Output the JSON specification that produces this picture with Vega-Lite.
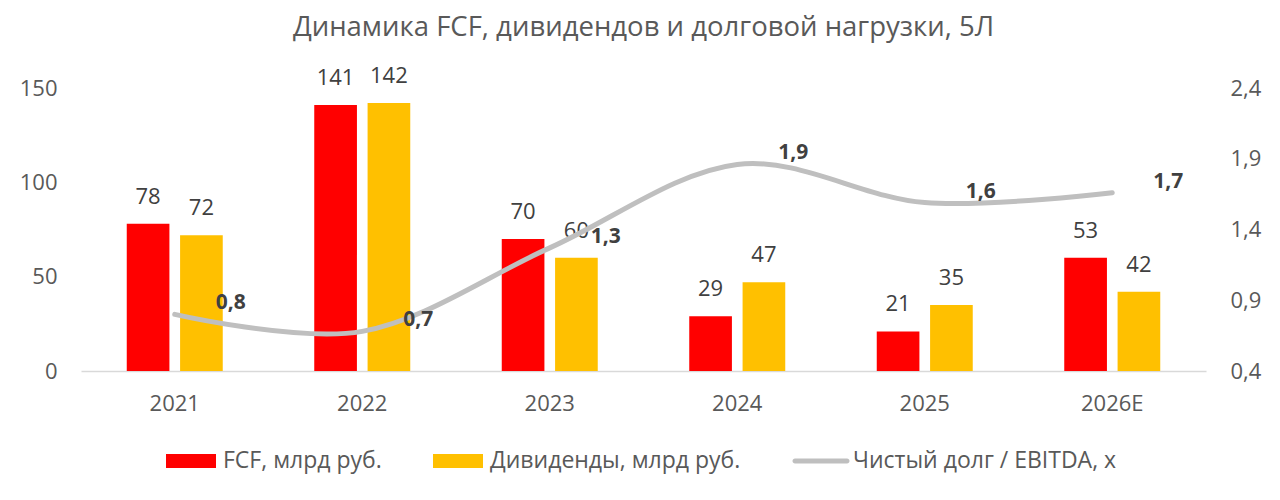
{
  "$schema": "https://vega.github.io/schema/vega-lite/v6.json",
  "width": 1125,
  "height": 283,
  "autosize": {"type": "none"},
  "padding": {"left": 81, "top": 88, "right": 74, "bottom": 129},
  "title": {
    "text": "Динамика FCF, дивидендов и долговой нагрузки, 5Л",
    "fontSize": 27.5,
    "fontWeight": "normal",
    "color": "#595959",
    "offset": 24
  },
  "datasets": {
    "bars": [
      {"year": "2021", "series": "FCF, млрд руб.", "value": 78, "label": "78"},
      {"year": "2021", "series": "Дивиденды, млрд руб.", "value": 72, "label": "72"},
      {"year": "2022", "series": "FCF, млрд руб.", "value": 141, "label": "141"},
      {"year": "2022", "series": "Дивиденды, млрд руб.", "value": 142, "label": "142"},
      {"year": "2023", "series": "FCF, млрд руб.", "value": 70, "label": "70"},
      {"year": "2023", "series": "Дивиденды, млрд руб.", "value": 60, "label": "60"},
      {"year": "2024", "series": "FCF, млрд руб.", "value": 29, "label": "29"},
      {"year": "2024", "series": "Дивиденды, млрд руб.", "value": 47, "label": "47"},
      {"year": "2025", "series": "FCF, млрд руб.", "value": 21, "label": "21"},
      {"year": "2025", "series": "Дивиденды, млрд руб.", "value": 35, "label": "35"},
      {"year": "2026E", "series": "FCF, млрд руб.", "value": 60, "label": "53"},
      {"year": "2026E", "series": "Дивиденды, млрд руб.", "value": 42, "label": "42"}
    ],
    "debt": [
      {"year": "2021", "ratio": 0.8},
      {"year": "2022", "ratio": 0.68},
      {"year": "2023", "ratio": 1.27},
      {"year": "2024", "ratio": 1.86},
      {"year": "2025", "ratio": 1.59},
      {"year": "2026E", "ratio": 1.66}
    ]
  },
  "layer": [
    {
      "data": {"name": "bars"},
      "encoding": {
        "x": {
          "field": "year",
          "type": "nominal",
          "sort": null,
          "scale": {"paddingInner": 0.488, "paddingOuter": 0.244},
          "axis": {
            "title": null,
            "labelAngle": 0,
            "ticks": false,
            "domainColor": "#D9D9D9",
            "domainWidth": 1.5,
            "labelFontSize": 22,
            "labelColor": "#595959",
            "labelPadding": 22
          }
        },
        "xOffset": {"field": "series", "sort": null, "scale": {"paddingInner": 0.2}},
        "y": {
          "field": "value",
          "type": "quantitative",
          "scale": {"domain": [0, 150]},
          "axis": {
            "title": null,
            "values": [0, 50, 100, 150],
            "grid": false,
            "domain": false,
            "ticks": false,
            "labelFontSize": 22,
            "labelColor": "#595959",
            "labelPadding": 24
          }
        }
      },
      "layer": [
        {
          "mark": {"type": "bar"},
          "encoding": {
            "color": {
              "field": "series",
              "type": "nominal",
              "scale": {
                "domain": ["FCF, млрд руб.", "Дивиденды, млрд руб.", "Чистый долг / EBITDA, x"],
                "range": ["#FF0000", "#FFC000", "#BFBFBF"]
              },
              "legend": {
                "title": null,
                "orient": "none",
                "legendX": 85,
                "legendY": 348,
                "direction": "horizontal",
                "columns": 3,
                "symbolSize": 2500,
                "labelFontSize": 23,
                "labelColor": "#595959",
                "labelOffset": 7,
                "labelLimit": 400,
                "columnPadding": 51,
                "encode": {
                  "symbols": {
                    "update": {
                      "shape": {"signal": "datum.value === 'Чистый долг / EBITDA, x' ? 'M-1.04,-0.1H1.04A0.1,0.1 0 0 1 1.04,0.1H-1.04A0.1,0.1 0 0 1 -1.04,-0.1Z' : 'M-1,-0.28H1V0.28H-1Z'"},
                      "fill": {"signal": "datum.value === 'FCF, млрд руб.' ? '#FF0000' : datum.value === 'Дивиденды, млрд руб.' ? '#FFC000' : '#BFBFBF'"},
                      "stroke": {"value": "transparent"},
                      "strokeWidth": {"value": 0},
                      "opacity": {"value": 1}
                    }
                  }
                }
              }
            }
          }
        },
        {
          "mark": {"type": "text", "dy": -27, "fontSize": 22, "color": "#404040"},
          "encoding": {"text": {"field": "label"}}
        }
      ]
    },
    {
      "data": {"name": "debt"},
      "encoding": {
        "x": {"field": "year", "type": "nominal", "sort": null},
        "y": {
          "field": "ratio",
          "type": "quantitative",
          "scale": {"domain": [0.4, 2.4]},
          "axis": {
            "title": null,
            "orient": "right",
            "values": [0.4, 0.9, 1.4, 1.9, 2.4],
            "format": ".1f",
            "grid": false,
            "domain": false,
            "ticks": false,
            "labelFontSize": 22,
            "labelColor": "#595959",
            "labelPadding": 24
          }
        }
      },
      "layer": [
        {
          "mark": {"type": "line", "interpolate": "cardinal", "tension": 0, "strokeWidth": 5, "strokeCap": "round"},
          "encoding": {"color": {"datum": "Чистый долг / EBITDA, x"}}
        },
        {
          "mark": {"type": "text", "fontSize": 21, "fontWeight": "bold", "color": "#404040", "dx": 56, "dy": -11},
          "encoding": {"text": {"field": "ratio", "type": "quantitative", "format": ".1f"}}
        }
      ]
    }
  ],
  "resolve": {"scale": {"y": "independent"}},
  "config": {
    "font": "Open Sans",
    "view": {"stroke": null},
    "locale": {"number": {"decimal": ",", "thousands": " ", "grouping": [3], "currency": ["", " ₽"]}}
  }
}
